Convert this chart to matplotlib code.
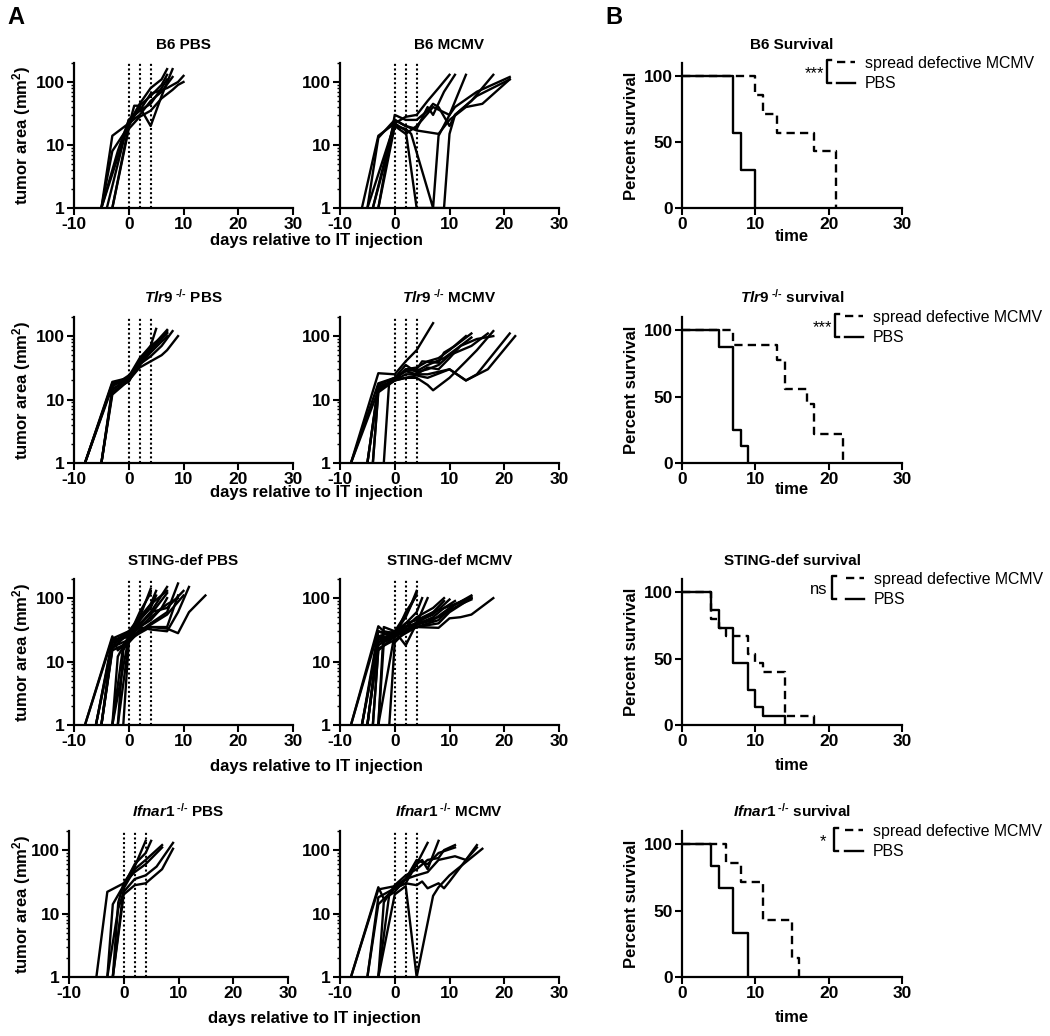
import matplotlib
matplotlib.use('Agg')
import matplotlib.pyplot as plt
from matplotlib.lines import Line2D
from matplotlib.ticker import LogLocator, NullFormatter, FixedLocator, FixedFormatter

plt.rcParams['font.family'] = ['Liberation Sans', 'DejaVu Sans']
plt.rcParams['font.weight'] = 'bold'
plt.rcParams['axes.unicode_minus'] = False
plt.rcParams['mathtext.fontset'] = 'custom'
plt.rcParams['mathtext.rm'] = 'Liberation Sans:bold'
plt.rcParams['mathtext.it'] = 'Liberation Sans:italic:bold'
plt.rcParams['mathtext.bf'] = 'Liberation Sans:bold'

# ---------------- data: tumor growth (days relative to IT injection, area mm^2) -------------
inj_days = [0, 2, 4]

b6_pbs = [
    ([-5, -3, 0, 2, 4, 6, 7], [1, 14, 22, 45, 80, 110, 160]),
    ([-5, -3, 0, 1, 2, 4, 6, 7], [1, 8, 20, 42, 42, 60, 90, 130]),
    ([-5, -2, 0, 2, 4, 6, 7], [1, 8, 25, 35, 45, 80, 110]),
    ([-3, 0, 2, 4, 6, 8], [1, 20, 40, 20, 60, 160]),
    ([-5, -1, 0, 2, 4, 6, 8], [1, 12, 22, 30, 50, 70, 120]),
    ([-4, 0, 2, 4, 7, 9, 10], [1, 25, 35, 65, 80, 100, 125]),
    ([-3, 0, 2, 4, 6, 8, 9, 10], [1, 18, 28, 35, 55, 75, 90, 100]),
]
b6_mcmv = [
    ([-6, -3, 0, 2, 4, 6, 8, 10], [1, 14, 22, 28, 30, 50, 80, 130]),
    ([-5, -3, 0, 2, 4, 6, 7, 9, 11], [1, 13, 25, 20, 18, 40, 30, 70, 130]),
    ([-4, 0, 2, 3, 7, 8, 10, 13], [1, 20, 18, 15, 1, 14, 30, 130]),
    ([-3, 0, 2, 4, 6, 7, 8, 10, 11, 14, 18], [1, 30, 25, 25, 35, 45, 40, 20, 30, 50, 130]),
    ([-5, 0, 2, 4, 9, 10, 11, 15, 21], [1, 22, 17, 1, 1, 15, 30, 60, 110]),
    ([-4, 0, 2, 4, 8, 10, 13, 16, 21], [1, 25, 20, 17, 15, 25, 40, 45, 110]),
    ([-3, 0, 2, 4, 5, 7, 10, 11, 15, 21], [1, 20, 15, 20, 25, 40, 30, 40, 70, 120]),
]
tlr9_pbs = [
    ([-8, -3, 0, 2, 4, 5], [1, 19, 22, 40, 70, 130]),
    ([-8, -3, 0, 2, 4, 6, 7], [1, 18, 21, 38, 60, 90, 120]),
    ([-5, -3, 0, 2, 4, 7], [1, 12, 20, 42, 65, 125]),
    ([-5, -3, 0, 2, 4, 7], [1, 14, 23, 45, 70, 110]),
    ([-8, -3, 0, 2, 4, 7], [1, 17, 20, 35, 55, 100]),
    ([-5, -3, 0, 2, 4, 7], [1, 15, 19, 40, 62, 115]),
    ([-8, -3, 0, 2, 4, 6, 8], [1, 16, 24, 36, 48, 70, 120]),
    ([-5, -3, 0, 2, 4, 6, 7, 9], [1, 13, 20, 32, 40, 50, 60, 100]),
]
tlr9_mcmv = [
    ([-8, -3, 0, 2, 4, 7], [1, 26, 25, 40, 60, 160]),
    ([-5, -3, 0, 2, 4, 6, 8, 10, 13], [1, 15, 20, 30, 32, 40, 45, 60, 100]),
    ([-4, -3, 0, 2, 4, 5, 8, 9, 11, 14], [1, 14, 22, 28, 30, 40, 38, 55, 70, 110]),
    ([-5, -3, 0, 2, 4, 6, 8, 10, 12, 14], [1, 16, 20, 25, 25, 32, 30, 45, 70, 95]),
    ([-8, -3, 0, 2, 4, 6, 8, 10, 14, 17], [1, 18, 22, 35, 27, 30, 35, 50, 70, 110]),
    ([-4, -3, 0, 2, 4, 6, 7, 10, 13, 15, 18], [1, 13, 20, 22, 22, 17, 14, 22, 40, 60, 120]),
    ([-2, -1, 0, 2, 4, 6, 9, 12, 15, 18], [1, 20, 21, 30, 28, 35, 45, 70, 90, 100]),
    ([-5, -3, 0, 2, 4, 6, 10, 13, 15, 21], [1, 17, 22, 28, 25, 25, 30, 20, 25, 110]),
    ([-8, -3, 0, 2, 4, 6, 10, 13, 17, 22], [1, 14, 20, 22, 24, 22, 30, 20, 30, 100]),
]
sting_pbs = [
    ([-8, -3, -2, 0, 2, 4], [1, 25, 15, 22, 50, 140]),
    ([-6, -3, 0, 2, 4], [1, 22, 25, 60, 120]),
    ([-5, -3, 0, 2, 4, 5], [1, 15, 20, 45, 80, 130]),
    ([-3, -2, 0, 2, 4, 5], [1, 12, 25, 45, 70, 110]),
    ([-2, -1, 0, 2, 4, 7], [1, 15, 22, 38, 60, 150]),
    ([-6, -3, 0, 2, 4, 7], [1, 18, 28, 40, 55, 120]),
    ([-5, -3, 0, 2, 4, 6, 7], [1, 20, 25, 35, 45, 70, 100]),
    ([-8, -3, 0, 2, 4, 7], [1, 23, 30, 50, 80, 130]),
    ([-3, -1, 0, 2, 4, 7, 9], [1, 18, 24, 30, 40, 60, 170]),
    ([-2, 0, 2, 4, 7, 9], [1, 20, 32, 35, 35, 110]),
    ([-5, -3, 0, 2, 4, 7, 9], [1, 16, 28, 35, 50, 80, 100]),
    ([-6, -3, 0, 2, 4, 7, 10], [1, 20, 30, 38, 60, 70, 130]),
    ([-1, 0, 2, 4, 7, 10], [1, 20, 30, 38, 55, 110]),
    ([-3, 0, 2, 4, 7, 9, 11], [1, 24, 35, 32, 30, 60, 150]),
    ([-5, -3, 0, 2, 4, 7, 9, 11, 14], [1, 17, 22, 28, 35, 33, 28, 60, 110]),
]
sting_mcmv = [
    ([-8, -3, -2, 0, 2, 4], [1, 36, 30, 28, 50, 120]),
    ([-6, -3, 0, 2, 4], [1, 30, 25, 60, 110]),
    ([-5, -3, 0, 2, 3, 4], [1, 20, 30, 55, 80, 130]),
    ([-4, -3, 0, 2, 4, 5], [1, 15, 25, 40, 60, 100]),
    ([-3, -2, 0, 2, 4, 6], [1, 35, 30, 18, 40, 100]),
    ([-5, -3, 0, 2, 4, 7, 9], [1, 18, 27, 35, 50, 70, 100]),
    ([-1, 0, 2, 4, 7, 9], [1, 20, 30, 40, 60, 90]),
    ([-6, -3, 0, 2, 4, 7, 10], [1, 22, 28, 30, 42, 55, 95]),
    ([-3, -2, 0, 2, 4, 7, 9, 11], [1, 20, 25, 35, 38, 50, 70, 90]),
    ([-5, -3, 0, 2, 4, 7, 10, 14], [1, 25, 30, 40, 45, 60, 75, 100]),
    ([-8, -3, 0, 2, 4, 7, 10, 14], [1, 30, 24, 32, 38, 45, 70, 110]),
    ([-4, -3, 0, 2, 4, 8, 11, 14], [1, 16, 22, 28, 35, 45, 80, 105]),
    ([-3, 0, 2, 4, 8, 12, 14], [1, 28, 36, 40, 50, 80, 95]),
    ([-5, -3, 0, 2, 4, 8, 10, 14], [1, 20, 26, 30, 35, 40, 60, 100]),
    ([-6, -3, 0, 2, 4, 8, 10, 12, 14, 18], [1, 24, 25, 30, 35, 34, 48, 50, 55, 100]),
]
ifnar_pbs = [
    ([-5, -3, 0, 2, 4], [1, 22, 30, 55, 140]),
    ([-3, -2, 0, 2, 4, 5], [1, 14, 28, 60, 90, 140]),
    ([-2, 0, 2, 4, 7], [1, 25, 50, 70, 120]),
    ([-2, -1, 0, 2, 4, 7], [1, 15, 30, 45, 60, 110]),
    ([-3, -1, 0, 2, 4, 6, 9], [1, 12, 22, 35, 40, 55, 130]),
    ([-2, 0, 2, 4, 7, 9], [1, 20, 28, 30, 50, 105]),
]
ifnar_mcmv = [
    ([-8, -3, -2, 0, 2, 4, 6], [1, 26, 17, 22, 35, 60, 130]),
    ([-5, -3, 0, 2, 4, 5, 6, 8], [1, 14, 25, 30, 60, 70, 50, 140]),
    ([-3, -2, 0, 2, 4, 6, 8, 9, 11], [1, 15, 28, 40, 50, 70, 75, 100, 120]),
    ([-3, -1, 0, 2, 4, 6, 8, 11], [1, 20, 25, 35, 70, 60, 90, 110]),
    ([-5, -3, 0, 2, 4, 5, 6, 8, 9, 10, 13, 15], [1, 18, 25, 30, 28, 32, 25, 30, 25, 32, 70, 110]),
    ([-8, -3, 0, 2, 4, 6, 8, 11, 13, 15], [1, 24, 27, 35, 40, 45, 70, 80, 70, 120]),
    ([-3, 0, 2, 4, 7, 8, 10, 16], [1, 20, 27, 1, 19, 26, 40, 105]),
]

# ---------------- data: Kaplan-Meier survival (time, percent) ----------------
b6_surv_pbs_t = [0, 7, 8, 10]
b6_surv_pbs_s = [100, 57.1, 28.6, 0]
b6_surv_mcmv_t = [0, 10, 11, 13, 18, 21]
b6_surv_mcmv_s = [100, 85.7, 71.4, 57.1, 42.9, 0]

tlr9_surv_pbs_t = [0, 5, 7, 8, 9]
tlr9_surv_pbs_s = [100, 87.5, 25, 12.5, 0]
tlr9_surv_mcmv_t = [0, 7, 13, 14, 17, 18, 22]
tlr9_surv_mcmv_s = [100, 88.9, 77.8, 55.6, 44.4, 22.2, 0]

sting_surv_pbs_t = [0, 4, 5, 7, 9, 10, 11, 14]
sting_surv_pbs_s = [100, 86.7, 73.3, 46.7, 26.7, 13.3, 6.7, 0]
sting_surv_mcmv_t = [0, 4, 5, 6, 9, 10, 11, 14, 18]
sting_surv_mcmv_s = [100, 80, 73.3, 66.7, 53.3, 46.7, 40, 6.7, 0]

ifnar_surv_pbs_t = [0, 4, 5, 7, 9]
ifnar_surv_pbs_s = [100, 83.3, 66.7, 33.3, 0]
ifnar_surv_mcmv_t = [0, 6, 8, 11, 15, 16]
ifnar_surv_mcmv_s = [100, 85.7, 71.4, 42.9, 14.3, 0]

significance = ['***', '***', 'ns', '*']
legend_labels = ['spread defective MCMV', 'PBS']

KO = r'^{\ \mathit{\text{-/-}}}'
growth_titles = [
    ('B6 PBS', 'B6 MCMV'),
    (r'$\mathit{Tlr9}' + KO + '$ PBS', r'$\mathit{Tlr9}' + KO + '$ MCMV'),
    ('STING-def PBS', 'STING-def MCMV'),
    (r'$\mathit{Ifnar1}' + KO + '$ PBS', r'$\mathit{Ifnar1}' + KO + '$ MCMV'),
]
surv_titles = ['B6 Survival', r'$\mathit{Tlr9}' + KO + '$ survival',
               'STING-def survival', r'$\mathit{Ifnar1}' + KO + '$ survival']

growth_data = [(b6_pbs, b6_mcmv), (tlr9_pbs, tlr9_mcmv), (sting_pbs, sting_mcmv), (ifnar_pbs, ifnar_mcmv)]
surv_data = [
    (b6_surv_mcmv_t, b6_surv_mcmv_s, b6_surv_pbs_t, b6_surv_pbs_s),
    (tlr9_surv_mcmv_t, tlr9_surv_mcmv_s, tlr9_surv_pbs_t, tlr9_surv_pbs_s),
    (sting_surv_mcmv_t, sting_surv_mcmv_s, sting_surv_pbs_t, sting_surv_pbs_s),
    (ifnar_surv_mcmv_t, ifnar_surv_mcmv_s, ifnar_surv_pbs_t, ifnar_surv_pbs_s),
]

# ---------------- layout (pixels) ----------------
W, H = 1050, 1036
fig = plt.figure(figsize=(W / 100, H / 100), dpi=100)

rows = [(63, 208), (317, 463), (579, 725), (831, 977)]
pbs_left = [74, 74, 74, 69]
mcmv_left = 340
surv_left = 682
gw, sw = 219, 220
days_label_y = [240, 493, 767, 1019]
time_label_y = [237, 490, 765, 1017]
leg_x = [0.705, 0.74, 0.745, 0.74]
br_x = [0.658, 0.695, 0.68, 0.69]
sig_x = [0.645, 0.683, 0.66, 0.655]


def rect(left, top, width, bottom):
    return [left / W, 1 - bottom / H, width / W, (bottom - top) / H]


def style(ax):
    for s in ['top', 'right']:
        ax.spines[s].set_visible(False)
    for s in ['left', 'bottom']:
        ax.spines[s].set_linewidth(1.6)
    ax.tick_params(which='major', direction='out', length=5, width=1.5, pad=1.5, labelsize=12.5)
    ax.tick_params(which='minor', direction='out', length=2.5, width=1.0)


def growth(ax, curves, title):
    for d, a in curves:
        ax.plot(d, a, color='black', lw=1.7)
    for v in inj_days:
        ax.axvline(v, color='black', lw=1.5, ls=(0, (1, 1.2)))
    ax.set_yscale('log')
    ax.set_ylim(1, 200)
    ax.set_xlim(-10, 30)
    ax.set_xticks([-10, 0, 10, 20, 30])
    ax.yaxis.set_major_locator(FixedLocator([1, 10, 100]))
    ax.yaxis.set_major_formatter(FixedFormatter(['1', '10', '100']))
    ax.yaxis.set_minor_locator(LogLocator(base=10, subs=range(2, 10)))
    ax.yaxis.set_minor_formatter(NullFormatter())
    ax.set_title(title, fontsize=11, fontweight='bold', pad=10)
    style(ax)


def survival(ax, data, title, sig, lx, bx, sx):
    tm, sm, tp, sp = data
    l1, = ax.step(tm, sm, where='post', color='black', lw=1.7, ls=(0, (3.5, 2.2)),
                  label=legend_labels[0])
    l2, = ax.step(tp, sp, where='post', color='black', lw=1.7, label=legend_labels[1])
    ax.set_xlim(0, 30)
    ax.set_ylim(0, 110)
    ax.set_xticks([0, 10, 20, 30])
    ax.set_yticks([0, 50, 100])
    ax.set_title(title, fontsize=11, fontweight='bold', pad=10)
    style(ax)
    ax.legend(handles=[l1, l2], loc='upper left', bbox_to_anchor=(lx, 1.05), frameon=False,
              prop={'size': 11.4, 'weight': 'normal'}, handlelength=1.15, handletextpad=0.6,
              labelspacing=0.36, borderpad=0, borderaxespad=0)
    br = Line2D([bx + 0.02, bx, bx, bx + 0.02], [1.02, 1.02, 0.865, 0.865], color='black',
                lw=1.7, transform=ax.transAxes, clip_on=False)
    ax.add_line(br)
    ax.text(sx, 0.895, sig, transform=ax.transAxes, ha='right', va='baseline',
            fontsize=12, fontweight='normal')


for i, (top, bot) in enumerate(rows):
    ax1 = fig.add_axes(rect(pbs_left[i], top, gw, bot))
    growth(ax1, growth_data[i][0], growth_titles[i][0])
    ax2 = fig.add_axes(rect(mcmv_left, top, gw, bot))
    growth(ax2, growth_data[i][1], growth_titles[i][1])
    ax3 = fig.add_axes(rect(surv_left, top, sw, bot))
    survival(ax3, surv_data[i], surv_titles[i], significance[i], leg_x[i], br_x[i], sig_x[i])

    yc = 1 - (top + bot) / 2 / H
    fig.text(22 / W, yc, r'tumor area (mm$^{2}$)', rotation=90, ha='center', va='center',
             fontsize=12, fontweight='bold')
    fig.text(632 / W, yc, 'Percent survival', rotation=90, ha='center', va='center',
             fontsize=12, fontweight='bold')
    fig.text((pbs_left[i] + mcmv_left + gw) / 2 / W, 1 - days_label_y[i] / H,
             'days relative to IT injection', ha='center', va='center', fontsize=12,
             fontweight='bold')
    fig.text((surv_left + sw / 2) / W, 1 - time_label_y[i] / H, 'time', ha='center',
             va='center', fontsize=12, fontweight='bold')

fig.text(7 / W, 1 - 17 / H, 'A', fontsize=17, fontweight='bold', ha='left', va='center')
fig.text(605 / W, 1 - 17 / H, 'B', fontsize=17, fontweight='bold', ha='left', va='center')

fig.savefig('out.png', dpi=100)
